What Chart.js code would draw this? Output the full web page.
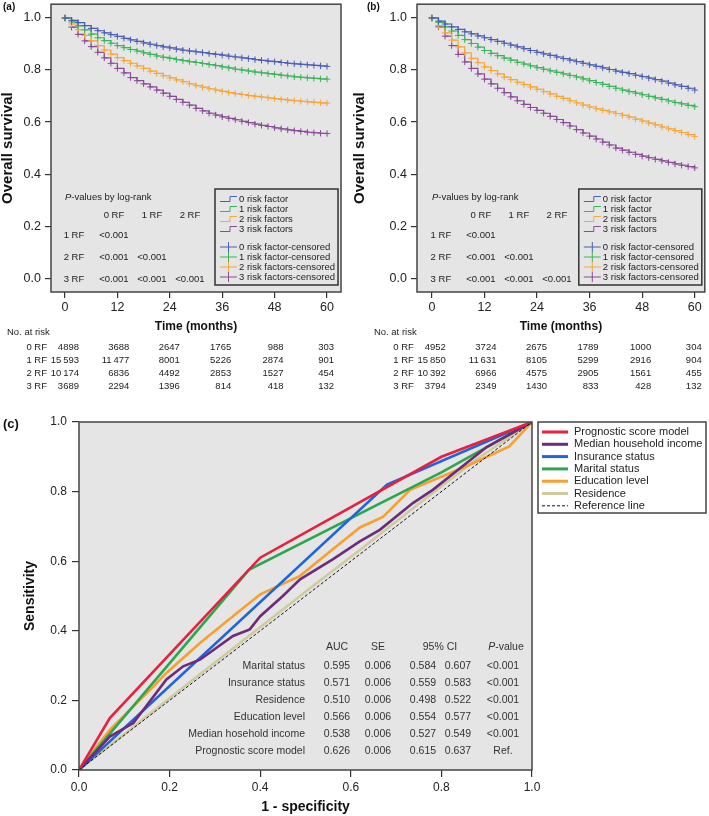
<!DOCTYPE html>
<html>
<head>
<meta charset="utf-8">
<script src="https://cdn.jsdelivr.net/npm/chart.js@4.4.1/dist/chart.umd.min.js"></script>
<style>
  body { margin: 0; background: #fff; }
  #figura { position: relative; width: 709px; height: 816px; }
  canvas { position: absolute; }
</style>
</head>
<body>
<div id="figura">
  <canvas id="km-a" width="350" height="400" style="left:0;top:0"></canvas>
  <canvas id="km-b" width="359" height="400" style="left:350px;top:0"></canvas>
  <canvas id="roc" width="709" height="416" style="left:0;top:400px"></canvas>
</div>
<script>
const FONTE = "'Liberation Sans', Arial, sans-serif";
Chart.defaults.font.family = FONTE;
Chart.defaults.color = '#222';

// ---- dados das curvas de sobrevida ----
const meses = [0, 1.5, 3, 4.5, 6, 7.5, 9, 10.5, 12, 13.5, 15, 16.5, 18, 19.5, 21, 22.5, 24, 25.5, 27, 28.5, 30,
               31.5, 33, 34.5, 36, 37.5, 39, 40.5, 42, 43.5, 45, 46.5, 48, 49.5, 51, 52.5, 54, 55.5, 57, 58.5, 60];
const ticksTempo = [0, 12, 24, 36, 48, 60];
const ticksSobrevida = [0, 0.2, 0.4, 0.6, 0.8, 1.0];

const gruposRisco = ['0 risk factor', '1 risk factor', '2 risk factors', '3 risk factors'];
const coresKM = ['#4c5eb6', '#3cb45c', '#f5a73a', '#8a4b97'];

const survA0 = [1.000, 0.991, 0.982, 0.971, 0.960, 0.951, 0.943, 0.936, 0.929, 0.922, 0.916, 0.910, 0.904, 0.899, 0.894, 0.889, 0.885, 0.880, 0.876, 0.873, 0.870,
                0.867, 0.863, 0.860, 0.857, 0.853, 0.850, 0.847, 0.844, 0.840, 0.837, 0.834, 0.832, 0.829, 0.826, 0.824, 0.822, 0.820, 0.818, 0.816, 0.814];
const survA1 = [1.000, 0.985, 0.970, 0.954, 0.938, 0.924, 0.913, 0.903, 0.894, 0.886, 0.879, 0.873, 0.866, 0.860, 0.854, 0.849, 0.845, 0.840, 0.836, 0.832, 0.829,
                0.825, 0.821, 0.817, 0.812, 0.808, 0.803, 0.800, 0.796, 0.792, 0.789, 0.786, 0.783, 0.780, 0.777, 0.774, 0.772, 0.770, 0.768, 0.766, 0.765];
const survA2 = [1.000, 0.977, 0.955, 0.933, 0.912, 0.894, 0.877, 0.861, 0.848, 0.836, 0.826, 0.816, 0.806, 0.796, 0.787, 0.778, 0.770, 0.762, 0.755, 0.747, 0.740,
                0.734, 0.728, 0.723, 0.718, 0.713, 0.709, 0.706, 0.702, 0.699, 0.696, 0.693, 0.690, 0.687, 0.684, 0.682, 0.680, 0.678, 0.676, 0.674, 0.673];
const survA3 = [1.000, 0.965, 0.937, 0.912, 0.890, 0.868, 0.847, 0.826, 0.806, 0.789, 0.771, 0.759, 0.747, 0.735, 0.723, 0.711, 0.699, 0.687, 0.676, 0.665, 0.653,
                0.643, 0.634, 0.627, 0.620, 0.614, 0.609, 0.603, 0.598, 0.592, 0.587, 0.583, 0.578, 0.574, 0.570, 0.567, 0.564, 0.561, 0.559, 0.557, 0.556];

const survB0 = [1.000, 0.988, 0.977, 0.966, 0.956, 0.947, 0.939, 0.931, 0.924, 0.917, 0.910, 0.903, 0.896, 0.889, 0.882, 0.875, 0.868, 0.862, 0.856, 0.850, 0.844,
                0.838, 0.832, 0.826, 0.820, 0.814, 0.808, 0.802, 0.796, 0.791, 0.786, 0.780, 0.775, 0.769, 0.763, 0.757, 0.750, 0.743, 0.737, 0.730, 0.723];
const survB1 = [1.000, 0.983, 0.966, 0.950, 0.933, 0.917, 0.902, 0.888, 0.875, 0.864, 0.855, 0.846, 0.838, 0.830, 0.823, 0.816, 0.809, 0.803, 0.797, 0.791, 0.785,
                0.779, 0.773, 0.766, 0.759, 0.752, 0.745, 0.737, 0.730, 0.723, 0.717, 0.711, 0.705, 0.699, 0.693, 0.687, 0.681, 0.675, 0.670, 0.664, 0.659];
const survB2 = [1.000, 0.971, 0.943, 0.915, 0.889, 0.866, 0.845, 0.828, 0.812, 0.798, 0.785, 0.773, 0.763, 0.753, 0.744, 0.735, 0.726, 0.717, 0.708, 0.699, 0.691,
                0.682, 0.674, 0.665, 0.658, 0.651, 0.645, 0.639, 0.633, 0.626, 0.619, 0.611, 0.604, 0.596, 0.589, 0.581, 0.574, 0.567, 0.560, 0.552, 0.545];
const survB3 = [1.000, 0.966, 0.930, 0.894, 0.860, 0.831, 0.806, 0.785, 0.765, 0.747, 0.730, 0.713, 0.697, 0.682, 0.668, 0.656, 0.645, 0.634, 0.622, 0.610, 0.598,
                0.585, 0.571, 0.558, 0.546, 0.535, 0.523, 0.512, 0.500, 0.492, 0.484, 0.476, 0.469, 0.463, 0.457, 0.451, 0.445, 0.439, 0.434, 0.429, 0.424];

// números em risco
const linhasRisco = ['0 RF', '1 RF', '2 RF', '3 RF'];
const emRiscoA = [
  [4898, 3688, 2647, 1765, 988, 303],
  [15593, 11477, 8001, 5226, 2874, 901],
  [10174, 6836, 4492, 2853, 1527, 454],
  [3689, 2294, 1396, 814, 418, 132]
];
const emRiscoB = [
  [4952, 3724, 2675, 1789, 1000, 304],
  [15850, 11631, 8105, 5299, 2916, 904],
  [10392, 6966, 4575, 2905, 1561, 455],
  [3794, 2349, 1430, 833, 428, 132]
];
const pLogRank = [['<0.001'], ['<0.001', '<0.001'], ['<0.001', '<0.001', '<0.001']];

// ---- dados da curva ROC ----
const rotulosROC = ['Prognostic score model', 'Median household income', 'Insurance status', 'Marital status', 'Education level', 'Residence', 'Reference line'];
const coresROC = ['#e8203f', '#6e2b7c', '#1f64dc', '#2ea64e', '#f7a030', '#cfcb9f', '#111111'];
const rocX = [
  [0, 0.068, 0.40, 0.80, 1],
  [0, 0.068, 0.12, 0.193, 0.23, 0.267, 0.34, 0.377, 0.40, 0.45, 0.488, 0.561, 0.62, 0.664, 0.737, 0.781, 0.90, 1],
  [0, 0.68, 1],
  [0, 0.375, 0.80, 1],
  [0, 0.068, 0.12, 0.157, 0.193, 0.267, 0.34, 0.40, 0.488, 0.561, 0.62, 0.671, 0.731, 0.85, 0.95, 1],
  [0, 0.25, 0.50, 0.62, 0.75, 0.88, 1],
  [0, 1]
];
const rocY = [
  [0, 0.149, 0.61, 0.90, 1],
  [0, 0.096, 0.135, 0.26, 0.298, 0.317, 0.385, 0.404, 0.442, 0.50, 0.548, 0.606, 0.657, 0.69, 0.767, 0.805, 0.928, 1],
  [0, 0.82, 1],
  [0, 0.575, 0.855, 1],
  [0, 0.115, 0.183, 0.23, 0.279, 0.365, 0.442, 0.505, 0.558, 0.635, 0.697, 0.727, 0.805, 0.87, 0.93, 1],
  [0, 0.258, 0.512, 0.632, 0.765, 0.895, 1],
  [0, 1]
];
const ticksROC = [0, 0.2, 0.4, 0.6, 0.8, 1.0];

const variaveisAUC = ['Marital status', 'Insurance status', 'Residence', 'Education level', 'Median hosehold income', 'Prognostic score model'];
const valoresAUC = [0.595, 0.571, 0.510, 0.566, 0.538, 0.626];
const errosPadrao = [0.006, 0.006, 0.006, 0.006, 0.006, 0.006];
const icInferior = [0.584, 0.559, 0.498, 0.554, 0.527, 0.615];
const icSuperior = [0.607, 0.583, 0.522, 0.577, 0.549, 0.637];
const pValoresAUC = ['<0.001', '<0.001', '<0.001', '<0.001', '<0.001', 'Ref.'];


// escreve "P" em itálico seguido do resto do texto
function textoPItalico(ctx, resto, x, y, tamanho, alinhamento) {
    ctx.font = `italic ${tamanho}px ${FONTE}`;
    const wP = ctx.measureText('P').width;
    ctx.font = `${tamanho}px ${FONTE}`;
    const wR = ctx.measureText(resto).width;
    let inicio = alinhamento === 'center' ? x - (wP + wR) / 2 : x;
    ctx.textAlign = 'left';
    ctx.font = `italic ${tamanho}px ${FONTE}`;
    ctx.fillText('P', inicio, y);
    ctx.font = `${tamanho}px ${FONTE}`;
    ctx.fillText(resto, inicio + wP, y);
}

function formatarNumero(n) {
    if (n < 10000) return String(n);
    const s = String(n);
    return s.slice(0, s.length - 3) + '\u2009' + s.slice(-3);
}

// fundo cinza e moldura da área do gráfico
const fundoMoldura = {
    id: 'fundoMoldura',
    beforeDraw(chart) {
        const { ctx, chartArea: a } = chart;
        ctx.save();
        ctx.fillStyle = '#e5e5e5';
        ctx.fillRect(a.left, a.top, a.right - a.left, a.bottom - a.top);
        ctx.restore();
    },
    afterDraw(chart) {
        const { ctx, chartArea: a } = chart;
        ctx.save();
        ctx.strokeStyle = '#444';
        ctx.lineWidth = 1.5;
        ctx.strokeRect(a.left, a.top, a.right - a.left, a.bottom - a.top);
        ctx.restore();
    }
};

// legenda, tabela de p-valores e números em risco dos painéis KM
const extrasKM = {
    id: 'extrasKM',
    afterDraw(chart, args, opts) {
        const { ctx, chartArea: a, scales: { x } } = chart;
        const x0 = x.getPixelForValue(0);
        ctx.save();
        ctx.textBaseline = 'middle';

        // rótulo do painel
        ctx.fillStyle = '#111';
        ctx.textAlign = 'left';
        ctx.font = `bold 10px ${FONTE}`;
        ctx.fillText(opts.rotulo, opts.rotuloX, 7);

        // p-valores
        ctx.fillStyle = '#222';
        textoPItalico(ctx, '-values by log-rank', x0, 197, 9.5, 'left');
        ctx.font = `9.5px ${FONTE}`;
        ctx.textAlign = 'center';
        const colunas = [49, 87, 125];
        const linhasY = [235, 257, 279];
        linhasRisco.slice(0, 3).forEach((r, i) => ctx.fillText(r, x0 + colunas[i], 215));
        pLogRank.forEach((linha, i) => {
            ctx.fillText(linhasRisco[i + 1], x0 + 9, linhasY[i]);
            linha.forEach((p, j) => ctx.fillText(p, x0 + colunas[j], linhasY[i]));
        });

        // legenda
        const lx = a.right - 126, ly = 189, lw = 123, lh = 96;
        ctx.strokeStyle = '#333';
        ctx.lineWidth = 1.5;
        ctx.strokeRect(lx, ly, lw, lh);
        const ysLegenda = [199, 209, 219, 229, 247, 257, 267, 277];
        ctx.lineWidth = 1;
        ctx.textAlign = 'left';
        ctx.font = `9.5px ${FONTE}`;
        gruposRisco.forEach((g, i) => {
            let y = ysLegenda[i];
            ctx.strokeStyle = coresKM[i];
            ctx.beginPath();
            ctx.moveTo(lx + 5, y + 2.5);
            ctx.lineTo(lx + 15, y + 2.5);
            ctx.lineTo(lx + 15, y - 2.5);
            ctx.lineTo(lx + 22, y - 2.5);
            ctx.stroke();
            ctx.fillText(g, lx + 24, y);

            y = ysLegenda[i + 4];
            ctx.beginPath();
            ctx.moveTo(lx + 5, y);
            ctx.lineTo(lx + 22, y);
            ctx.moveTo(lx + 13.5, y - 5);
            ctx.lineTo(lx + 13.5, y + 5);
            ctx.stroke();
            ctx.fillText(g + '-censored', lx + 24, y);
        });

        // números em risco
        ctx.fillStyle = '#222';
        ctx.font = `9.5px ${FONTE}`;
        ctx.textAlign = 'left';
        ctx.fillText('No. at risk', x0 - 58, 332);
        const desloc = [14, 12, 10, 9, 9, 7];
        const ysRisco = [347, 360, 373, 386];
        opts.emRisco.forEach((linha, i) => {
            ctx.textAlign = 'right';
            ctx.fillText(linhasRisco[i], x0 - 18, ysRisco[i]);
            linha.forEach((n, j) => {
                ctx.fillText(formatarNumero(n), x.getPixelForValue(ticksTempo[j]) + desloc[j], ysRisco[i]);
            });
        });
        ctx.restore();
    }
};

function zerarPadding(s) {
    s.paddingTop = 0; s.paddingBottom = 0; s.paddingLeft = 0; s.paddingRight = 0;
}

function criarGraficoKM(idCanvas, series, cfg) {
    const ctx = document.getElementById(idCanvas).getContext('2d');
    return new Chart(ctx, {
        type: 'line',
        data: {
            datasets: series.map((valores, i) => ({
                label: gruposRisco[i],
                data: meses.map((m, j) => ({ x: m, y: valores[j] })),
                borderColor: coresKM[i],
                backgroundColor: coresKM[i],
                borderWidth: 1.2,
                stepped: 'before', // horizontal primeiro, depois a queda
                pointStyle: 'cross',
                pointRadius: 3.2,
                pointHoverRadius: 3.2,
                pointBorderWidth: 1
            }))
        },
        options: {
            responsive: false,
            animation: false,
            layout: { padding: cfg.padding },
            plugins: {
                legend: { display: false },
                tooltip: { enabled: false },
                extrasKM: { rotulo: cfg.rotulo, rotuloX: cfg.rotuloX, emRisco: cfg.emRisco }
            },
            scales: {
                x: {
                    type: 'linear',
                    min: cfg.xMin,
                    max: cfg.xMax,
                    afterBuildTicks: s => { s.ticks = ticksTempo.map(v => ({ value: v })); },
                    afterFit: s => { s.height = 42; zerarPadding(s); },
                    grid: { drawOnChartArea: false, tickLength: 6, color: '#333', lineWidth: 1.2 },
                    border: { display: false },
                    ticks: { font: { size: 12.5 }, padding: 2, color: '#222', callback: v => v },
                    title: { display: true, text: 'Time (months)', font: { size: 12, weight: 'bold' }, color: '#111', padding: { top: 0, bottom: 0 } }
                },
                y: {
                    type: 'linear',
                    min: -0.053,
                    max: 1.053,
                    afterBuildTicks: s => { s.ticks = ticksSobrevida.map(v => ({ value: v })); },
                    afterFit: s => { s.width = cfg.larguraY; zerarPadding(s); },
                    grid: { drawOnChartArea: false, tickLength: 6, color: '#333', lineWidth: 1.2 },
                    border: { display: false },
                    ticks: { font: { size: 12.5 }, padding: 4, color: '#222', callback: v => v.toFixed(1) },
                    title: { display: true, text: 'Overall survival', font: { size: 15, weight: 'bold', lineHeight: 1 }, color: '#111', padding: { top: 0, bottom: 0 } }
                }
            }
        },
        plugins: [fundoMoldura, extrasKM]
    });
}

criarGraficoKM('km-a', [survA0, survA1, survA2, survA3], {
    padding: { left: 0, top: 1, right: 9, bottom: 66 },
    larguraY: 51, xMin: -3.2, xMax: 63.2,
    rotulo: '(a)', rotuloX: 3, emRisco: emRiscoA
});
criarGraficoKM('km-b', [survB0, survB1, survB2, survB3], {
    padding: { left: 2, top: 1, right: 4, bottom: 66 },
    larguraY: 65, xMin: -3.4, xMax: 62.3,
    rotulo: '(b)', rotuloX: 17, emRisco: emRiscoB
});

// tabela de AUC e legenda do painel (c)
const extrasROC = {
    id: 'extrasROC',
    afterDraw(chart) {
        const { ctx } = chart;
        ctx.save();
        ctx.textBaseline = 'middle';
        ctx.fillStyle = '#111';
        ctx.textAlign = 'left';
        ctx.font = `bold 13px ${FONTE}`;
        ctx.fillText('(c)', 3, 24);

        // tabela
        ctx.fillStyle = '#333';
        ctx.font = `10.5px ${FONTE}`;
        ctx.textAlign = 'center';
        ctx.fillText('AUC', 337, 247);
        ctx.fillText('SE', 378, 247);
        ctx.fillText('95% CI', 440, 247);
        textoPItalico(ctx, '-value', 506, 247, 10.5, 'center');
        ctx.font = `10.5px ${FONTE}`;
        const ysTabela = [266, 283, 300, 317, 334, 351];
        variaveisAUC.forEach((v, i) => {
            const y = ysTabela[i];
            ctx.textAlign = 'right';
            ctx.fillText(v, 305, y);
            ctx.textAlign = 'center';
            ctx.fillText(valoresAUC[i].toFixed(3), 337, y);
            ctx.fillText(errosPadrao[i].toFixed(3), 378, y);
            ctx.fillText(icInferior[i].toFixed(3), 423, y);
            ctx.fillText(icSuperior[i].toFixed(3), 458, y);
            ctx.fillText(pValoresAUC[i], 503, y);
        });

        // legenda
        ctx.strokeStyle = '#444';
        ctx.lineWidth = 1.5;
        ctx.strokeRect(538, 22, 168, 91);
        ctx.font = `11px ${FONTE}`;
        ctx.textAlign = 'left';
        ctx.fillStyle = '#222';
        rotulosROC.forEach((r, i) => {
            const y = 32 + i * 12.3;
            ctx.strokeStyle = coresROC[i];
            ctx.lineWidth = i === 6 ? 1 : 3;
            ctx.setLineDash(i === 6 ? [3, 2] : []);
            ctx.beginPath();
            ctx.moveTo(542, y);
            ctx.lineTo(568, y);
            ctx.stroke();
            ctx.fillText(r, 574, y);
        });
        ctx.restore();
    }
};

new Chart(document.getElementById('roc').getContext('2d'), {
    type: 'line',
    data: {
        datasets: rotulosROC.map((r, i) => ({
            label: r,
            data: rocX[i].map((xv, j) => ({ x: xv, y: rocY[i][j] })),
            borderColor: coresROC[i],
            borderWidth: i === 6 ? 1 : 2.6,
            borderDash: i === 6 ? [3, 2] : [],
            order: i === 6 ? -1 : 0, // linha de referência por cima
            pointRadius: 0,
            tension: 0
        }))
    },
    options: {
        responsive: false,
        animation: false,
        layout: { padding: { left: 0, top: 22, right: 177, bottom: 0 } },
        plugins: { legend: { display: false }, tooltip: { enabled: false } },
        scales: {
            x: {
                type: 'linear', min: 0, max: 1,
                afterBuildTicks: s => { s.ticks = ticksROC.map(v => ({ value: v })); },
                afterFit: s => { s.height = 46; zerarPadding(s); },
                grid: { drawOnChartArea: false, tickLength: 7, color: '#333', lineWidth: 1.2 },
                border: { display: false },
                ticks: { font: { size: 12 }, padding: 3, color: '#222', callback: v => v.toFixed(1) },
                title: { display: true, text: '1 - specificity', font: { size: 14, weight: 'bold' }, color: '#111', padding: { top: 0, bottom: 0 } }
            },
            y: {
                type: 'linear', min: 0, max: 1,
                afterBuildTicks: s => { s.ticks = ticksROC.map(v => ({ value: v })); },
                afterFit: s => { s.width = 79; zerarPadding(s); },
                grid: { drawOnChartArea: false, tickLength: 7, color: '#333', lineWidth: 1.2 },
                border: { display: false },
                ticks: { font: { size: 12 }, padding: 5, color: '#222', callback: v => v.toFixed(1) },
                title: { display: true, text: 'Sensitivity', font: { size: 14, weight: 'bold' }, color: '#111', padding: { top: 22, bottom: 0 } }
            }
        }
    },
    plugins: [fundoMoldura, extrasROC]
});
</script>
</body>
</html>
